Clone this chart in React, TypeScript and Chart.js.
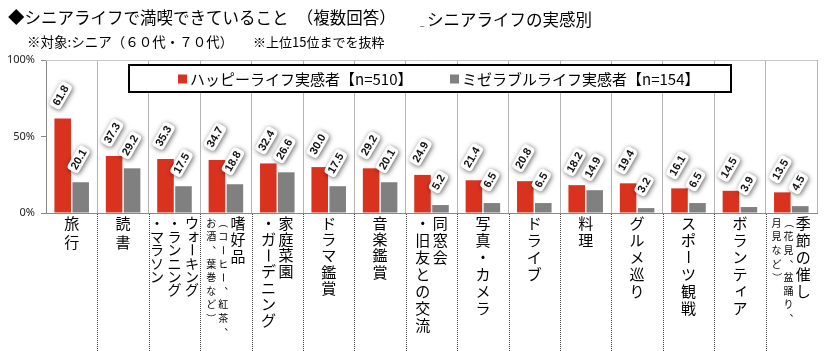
import React, { useEffect, useRef } from 'react';
import { Chart, registerables } from 'chart.js';

Chart.register(...registerables);

// ---------- DATA ----------
const categories = [
  '旅行',
  '読書',
  'ウォーキング・ランニング・マラソン',
  '嗜好品（コーヒー、紅茶、お酒、葉巻など）',
  '家庭菜園・ガーデニング',
  'ドラマ鑑賞',
  '音楽鑑賞',
  '同窓会・旧友との交流',
  '写真・カメラ',
  'ドライブ',
  '料理',
  'グルメ巡り',
  'スポーツ観戦',
  'ボランティア',
  '季節の催し（花見、盆踊り、月見など）',
];
// vertical label columns, right to left
const labelColumns: string[][] = [
  ['旅行'],
  ['読書'],
  ['ウォーキング', '・ランニング', '・マラソン'],
  ['嗜好品', '（コーヒー、紅茶、', 'お酒、葉巻など）'],
  ['家庭菜園', '・ガーデニング'],
  ['ドラマ鑑賞'],
  ['音楽鑑賞'],
  ['同窓会', '・旧友との交流'],
  ['写真・カメラ'],
  ['ドライブ'],
  ['料理'],
  ['グルメ巡り'],
  ['スポーツ観戦'],
  ['ボランティア'],
  ['季節の催し', '（花見、盆踊り、', '月見など）'],
];
const happyValues = [61.8, 37.3, 35.3, 34.7, 32.4, 30.0, 29.2, 24.9, 21.4, 20.8, 18.2, 19.4, 16.1, 14.5, 13.5];
const miserableValues = [20.1, 29.2, 17.5, 18.8, 26.6, 17.5, 20.1, 5.2, 6.5, 6.5, 14.9, 3.2, 6.5, 3.9, 4.5];
const yTickValues = [0, 50, 100];
const seriesNames = ['ハッピーライフ実感者【n=510】', 'ミゼラブルライフ実感者【n=154】'];
const titleMain = '◆シニアライフで満喫できていること　（複数回答）';
const titleSuffix = 'シニアライフの実感別';
const subtitleA = '※対象:シニア（６０代・７０代）';
const subtitleB = '※上位15位までを抜粋';

// ---------- STYLE ----------
const RED = '#d9331f';
const GRAY = '#808080';
const JP = '"Noto Sans CJK JP", "Noto Sans", sans-serif';
const charStep = [19, 19, 13.4, 16.5, 16.2, 16.3, 16.3, 17, 17, 17, 17, 17, 17, 17, 17];
const smallCols: boolean[][] = [
  [false], [false], [false, false, false], [false, true, true], [false, false],
  [false], [false], [false, false], [false], [false], [false], [false], [false], [false],
  [false, true, true],
];

function drawVChar(ctx: CanvasRenderingContext2D, ch: string, x: number, y: number, size: number) {
  const rot = 'ー（）〜'.includes(ch);
  const small = 'ッォィャュョァゥェ'.includes(ch);
  const comma = '、。'.includes(ch);
  if (rot) {
    ctx.save();
    ctx.translate(x, y);
    ctx.rotate(Math.PI / 2);
    ctx.fillText(ch, 0, 0);
    ctx.restore();
  } else if (comma) {
    ctx.fillText(ch, x + size * 0.6, y - size * 0.55);
  } else if (small) {
    ctx.fillText(ch, x + size * 0.1, y - size * 0.1);
  } else {
    ctx.fillText(ch, x, y);
  }
}

const decorPlugin = {
  id: 'decor',
  beforeDraw(chart: any) {
    const { ctx, width, height } = chart;
    ctx.save();
    ctx.fillStyle = '#ffffff';
    ctx.fillRect(0, 0, width, height);
    ctx.restore();
  },
  afterDatasetsDraw(chart: any) {
    const { ctx, chartArea, scales } = chart;
    const xs = scales.x;
    ctx.save();
    // top border
    ctx.strokeStyle = '#c8c8c8';
    ctx.lineWidth = 1;
    ctx.beginPath();
    ctx.moveTo(chartArea.left, chartArea.top + 0.5);
    ctx.lineTo(chartArea.right, chartArea.top + 0.5);
    ctx.stroke();

    // dotted separators below axis
    ctx.strokeStyle = '#444';
    ctx.setLineDash([1, 1]);
    for (let i = 1; i < categories.length; i++) {
      const bx = Math.round((xs.getPixelForValue(i - 1) + xs.getPixelForValue(i)) / 2) + 0.5;
      ctx.beginPath();
      ctx.moveTo(bx, chartArea.bottom + 1);
      ctx.lineTo(bx, chart.height);
      ctx.stroke();
    }
    ctx.setLineDash([]);

    // data labels
    const angle = -Math.PI / 3;
    ctx.font = 'bold 11px "Liberation Sans", Arial, sans-serif';
    ctx.textAlign = 'center';
    ctx.textBaseline = 'middle';
    chart.data.datasets.forEach((ds: any, di: number) => {
      const meta = chart.getDatasetMeta(di);
      meta.data.forEach((el: any, i: number) => {
        const txt = Number(ds.data[i]).toFixed(1);
        const w = ctx.measureText(txt).width + 6;
        const h = 13;
        const cx = el.x - 2;
        const cy = el.y - 23;
        ctx.save();
        ctx.translate(cx, cy);
        ctx.rotate(angle);
        ctx.shadowColor = 'rgba(0,0,0,0.6)';
        ctx.shadowBlur = 5;
        ctx.shadowOffsetX = 1;
        ctx.shadowOffsetY = 1;
        ctx.fillStyle = '#ffffff';
        ctx.beginPath();
        ctx.roundRect(-w / 2, -h / 2, w, h, 4);
        ctx.fill();
        ctx.shadowColor = 'transparent';
        ctx.fillStyle = '#111';
        ctx.fillText(txt, 0, 0.5);
        ctx.restore();
      });
    });

    // legend box
    const lx = 129, ly = 65, lw = 602, lh = 27;
    ctx.fillStyle = '#ffffff';
    ctx.fillRect(lx, ly, lw, lh);
    ctx.strokeStyle = '#000';
    ctx.lineWidth = 2;
    ctx.strokeRect(lx, ly, lw, lh);
    ctx.font = `15px ${JP}`;
    ctx.textAlign = 'left';
    ctx.textBaseline = 'middle';
    const legendX = [178, 450];
    chart.data.datasets.forEach((ds: any, di: number) => {
      ctx.fillStyle = ds.backgroundColor;
      ctx.fillRect(legendX[di], ly + lh / 2 - 4, 9, 9);
      ctx.fillStyle = '#000';
      ctx.fillText(ds.label, legendX[di] + 12, ly + lh / 2 + 1);
    });

    // vertical category labels
    ctx.fillStyle = '#000';
    ctx.textAlign = 'center';
    ctx.textBaseline = 'middle';
    labelColumns.forEach((cols, i) => {
      const cx = xs.getPixelForValue(i);
      const widths = cols.map((_, k) => (smallCols[i][k] ? 12 : 17.5));
      const total = widths.reduce((a, b) => a + b, 0);
      let right = cx + total / 2;
      cols.forEach((col, k) => {
        const small = smallCols[i][k];
        const colX = right - widths[k] / 2;
        right -= widths[k];
        const size = small ? 10 : i === 2 ? 14 : 15;
        const step = small ? 13.6 : charStep[i];
        ctx.font = `${size}px ${JP}`;
        let y = chartArea.bottom + 10;
        for (const ch of Array.from(col)) {
          drawVChar(ctx, ch, colX, y, size);
          y += step;
        }
      });
    });

    // titles
    ctx.textAlign = 'left';
    ctx.textBaseline = 'middle';
    ctx.fillStyle = '#000';
    ctx.font = `16.5px ${JP}`;
    ctx.fillText(titleMain, 8, 18);
    ctx.fillText(titleSuffix, 427, 20);
    ctx.font = `8px ${JP}`;
    ctx.fillText('_', 420, 23);
    ctx.font = `13.5px ${JP}`;
    ctx.fillText(subtitleA, 27, 42);
    ctx.font = `13px ${JP}`;
    ctx.fillText(subtitleB, 253, 42);
    ctx.restore();
  },
};

export default function App() {
  const canvasRef = useRef<HTMLCanvasElement | null>(null);
  useEffect(() => {
    if (!canvasRef.current) return;
    const chart = new Chart(canvasRef.current, {
      type: 'bar',
      data: {
        labels: categories,
        datasets: [
          { label: seriesNames[0], data: happyValues, backgroundColor: RED, categoryPercentage: 0.7, barPercentage: 0.92 },
          { label: seriesNames[1], data: miserableValues, backgroundColor: GRAY, categoryPercentage: 0.7, barPercentage: 0.92 },
        ],
      },
      options: {
        animation: false,
        responsive: false,
        maintainAspectRatio: false,
        layout: { padding: { left: 0, right: 9, top: 60, bottom: 138 } },
        plugins: { legend: { display: false }, tooltip: { enabled: false }, title: { display: false } },
        scales: {
          x: {
            grid: { display: true, offset: true, color: '#b4b4b4', drawTicks: false, lineWidth: 1 },
            border: { display: true, color: '#888', width: 1 },
            ticks: { display: false },
          },
          y: {
            min: 0,
            max: 100,
            afterFit: (scale: any) => { scale.width = 46; },
            afterBuildTicks: (scale: any) => { scale.ticks = yTickValues.map((v) => ({ value: v })); },
            grid: { drawOnChartArea: false, drawTicks: true, tickLength: 5, tickColor: '#888' },
            border: { display: true, color: '#888', width: 1 },
            ticks: {
              padding: 6,
              color: '#222',
              font: { size: 11, family: '"Noto Sans", "DejaVu Sans", sans-serif' },
              callback: (v: any) => `${v}%`,
            },
          },
        },
      },
      plugins: [decorPlugin],
    });
    return () => chart.destroy();
  }, []);
  return (
    <div style={{ position: 'absolute', left: 0, top: 0, width: 826, height: 351, background: '#fff' }}>
      <canvas ref={canvasRef} width={826} height={351} style={{ display: 'block', width: 826, height: 351 }} />
    </div>
  );
}
